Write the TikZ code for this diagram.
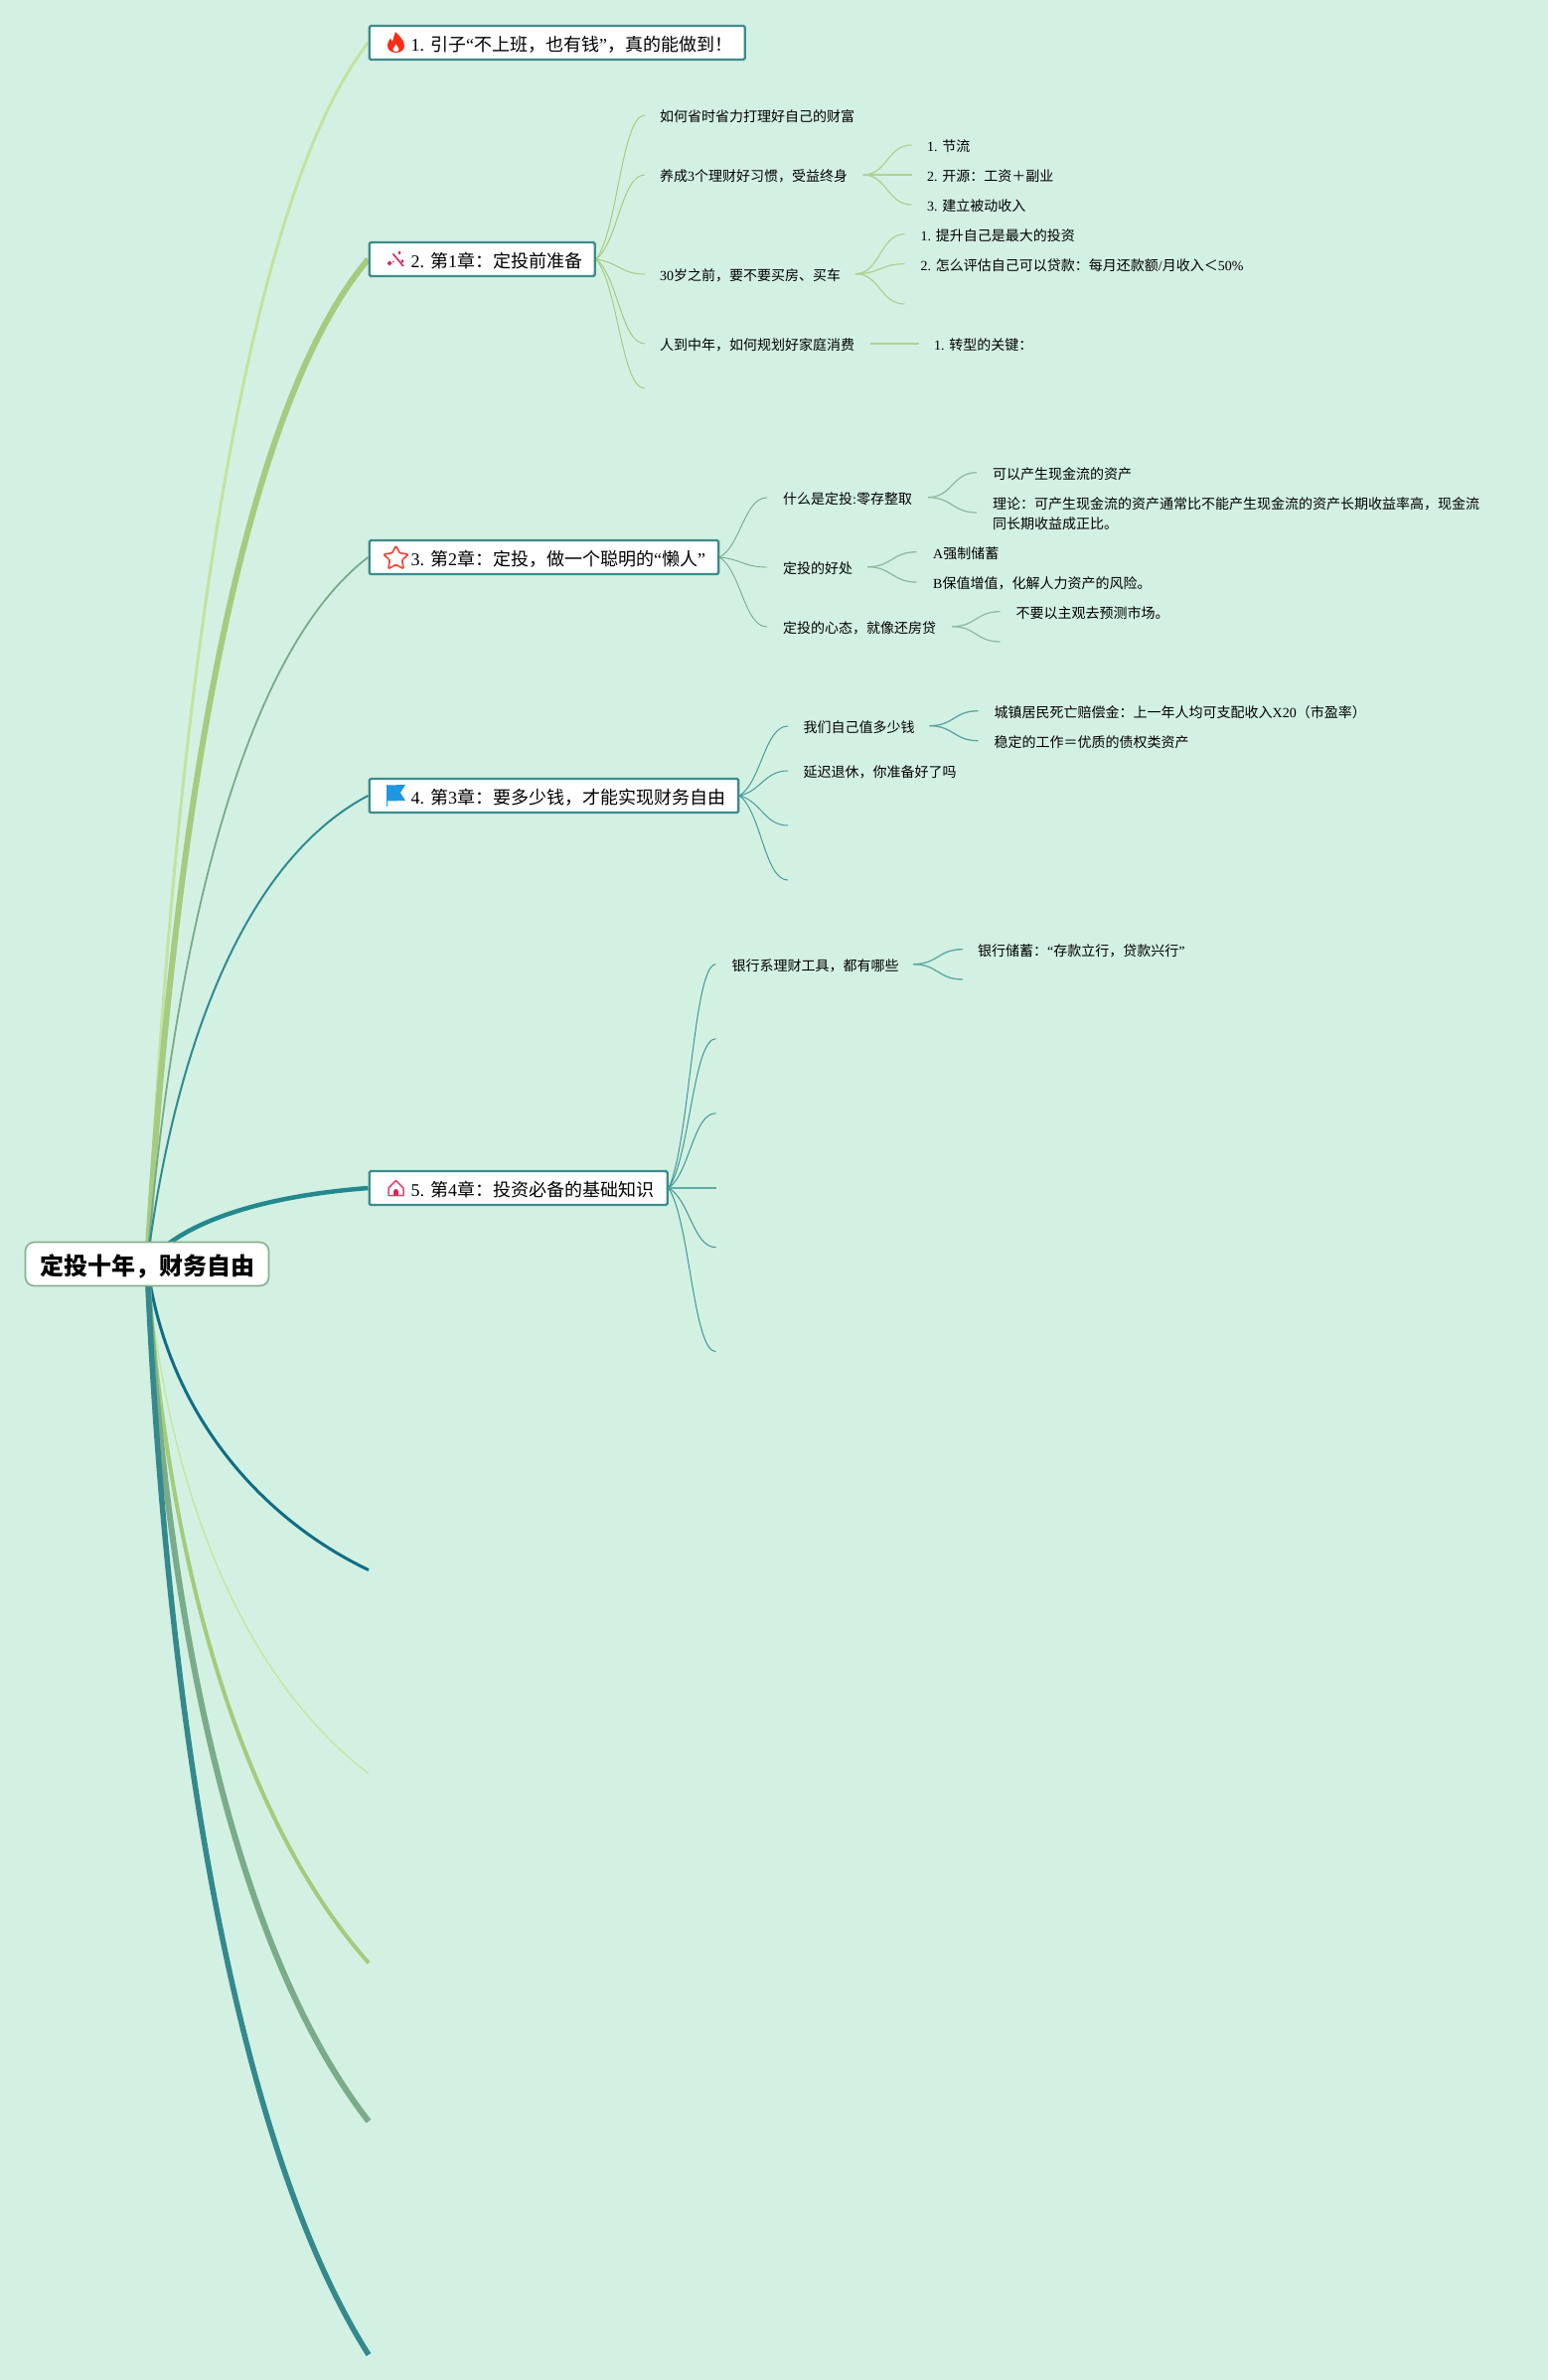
\documentclass[tikz,border=0pt]{standalone}
\usepackage{fontspec}
\setmainfont{Liberation Serif}
\newfontfamily\cjk{Noto Sans CJK SC}
\usetikzlibrary{calc}
\pgfdeclarelayer{bg}
\pgfsetlayers{bg,main}
\newcommand\C[1]{{\cjk #1}}
\newcommand\chap[2]{\makebox[#1][l]{\hspace*{26pt}#2}}
\definecolor{pagebg}{RGB}{211,241,227}
\definecolor{boxline}{RGB}{61,139,140}
\definecolor{rootline}{RGB}{133,176,142}
\definecolor{ba}{RGB}{194,227,160}
\definecolor{bb}{RGB}{164,203,127}
\definecolor{bc}{RGB}{120,170,138}
\definecolor{bd}{RGB}{47,139,142}
\definecolor{be}{RGB}{35,137,143}
\definecolor{bf}{RGB}{15,110,132}
\definecolor{bg7}{RGB}{198,230,166}
\definecolor{bh}{RGB}{163,203,124}
\definecolor{bi}{RGB}{122,171,138}
\definecolor{bj}{RGB}{51,137,140}
\definecolor{iconpink}{RGB}{224,36,94}
\definecolor{iconred}{RGB}{250,45,20}
\definecolor{starred}{RGB}{238,74,59}
\definecolor{iconblue}{RGB}{31,150,224}
\newcommand\fan[3]{\draw[#1] (#2) .. controls ($(#2)!.45!(#3 |- #2) + (#2)!.2!(#2 |- #3) - (#2)$) and ($(#3)!.48!(#2 |- #3)$) .. (#3);}
\newcommand\scv[3]{\draw[#1] (#2) .. controls ($(#2)!.5!(#3 |- #2)$) and ($(#3)!.5!(#2 |- #3)$) .. (#3);}
\tikzset{
  rootbox/.style={draw=rootline,line width=1.6pt,fill=white,rounded corners=9pt,minimum width=245pt,minimum height=44pt,inner sep=0pt,font=\fontsize{24}{28}\selectfont\cjk\bfseries,text height=23pt,text depth=2pt},
  chapbox/.style={draw=boxline,line width=2.4pt,fill=white,rounded corners=1.5pt,anchor=west,inner xsep=16pt,inner ysep=8pt,minimum height=34pt,font=\fontsize{18}{22}\selectfont,text height=17pt,text depth=1pt},
  small/.style={anchor=west,inner sep=0pt,font=\fontsize{14}{20}\selectfont,text height=12.32pt,text depth=1.68pt},
  para/.style={anchor=west,inner sep=0pt,align=left,font=\fontsize{14}{20}\selectfont},
  sub2/.style={draw=bb,line width=1pt},
  sub2b/.style={draw=bb!80!pagebg,line width=1.3pt},
  sub3/.style={draw=bc,line width=.9pt},
  sub3b/.style={draw=bc!75!pagebg,line width=1.3pt},
  sub4/.style={draw=bd!85!pagebg,line width=1pt},
  sub4b/.style={draw=bd!75!pagebg,line width=1.3pt},
  sub5/.style={draw=bd!90!pagebg,line width=1pt},
  sub5b/.style={draw=bd!70!pagebg,line width=1.4pt},
  mainline/.style={line cap=butt}
}
\begin{document}
\begin{tikzpicture}[x=1pt,y=-1pt]
\useasboundingbox (0,0) rectangle (1558,2396);
\begin{pgfonlayer}{bg}
\fill[pagebg] (0,0) rectangle (1558,2396);
\end{pgfonlayer}

% root and chapter boxes
\node[rootbox] (root) at (148,1272.5) {定投十年，财务自由};
\node[chapbox] (b1) at (370.5,43) {\chap{346pt}{1. \C{引子}“\C{不上班，也有钱}”\C{，真的能做到！}}};
\node[chapbox] (b2) at (370.5,261) {\chap{195pt}{2. \C{第}1\C{章：定投前准备}}};
\node[chapbox] (b3) at (370.5,561) {\chap{319.5pt}{3. \C{第}2\C{章：定投，做一个聪明的}“\C{懒人}”}};
\node[chapbox] (b4) at (370.5,801) {\chap{339.5pt}{4. \C{第}3\C{章：要多少钱，才能实现财务自由}}};
\node[chapbox] (b5) at (370.5,1196) {\chap{268pt}{5. \C{第}4\C{章：投资必备的基础知识}}};

% icons
\fill[iconred] (398.5,53) .. controls (393,53) and (390,49.5) .. (390,46) .. controls (390,42) and (392,41) .. (393,38.5) .. controls (394,40) and (394.5,41) .. (395,42) .. controls (396,38) and (397,35) .. (398,32) .. controls (402,36) and (407,41) .. (407,46) .. controls (407,50) and (404,53) .. (398.5,53) -- cycle;
\fill[white] (398.5,52) .. controls (396,52) and (395,50.5) .. (395.5,49) .. controls (396,47.5) and (397.5,47) .. (398.5,44.5) .. controls (399.5,47) and (401.5,48) .. (401.5,49.5) .. controls (401.5,51) and (400,52) .. (398.5,52) -- cycle;

\draw[iconpink,line width=1.6pt] (395.5,255.5) -- (406,268);
\fill[iconpink] (392,262.5) -- (394.5,265) -- (392,267.5) -- (389.5,265) -- cycle;
\fill[iconpink] (402,252.5) -- (403.5,254.5) -- (402,256.5) -- (400.5,254.5) -- cycle;
\fill[iconpink] (405,261) -- (406.5,263) -- (405,265) -- (403.5,263) -- cycle;
\fill[iconpink] (396,263.5) circle (.9pt);

\draw[starred,line width=1.7pt,line join=round,rounded corners=1pt] (398.5,549.5) -- (402.3,556.7) -- (410.9,558) -- (404.7,564) -- (406.1,572.5) -- (398.5,568.5) -- (390.9,572.5) -- (392.3,564) -- (386.1,558) -- (394.7,556.7) -- cycle;

\fill[iconblue] (389.5,790.5) -- (408,790) -- (403,798) -- (408,806) -- (389.5,806.5) -- cycle;
\draw[iconblue,line width=1pt] (389.5,790) -- (389.5,812);

\draw[iconpink!85!white,line width=1.5pt,line join=round] (391,1196) -- (398.5,1188.5) -- (406,1196) -- (406,1203.5) -- (391,1203.5) -- cycle;
\fill[iconpink] (396,1203.5) -- (396,1199.5) arc[start angle=180,end angle=0,radius=2.5pt] -- (401,1203.5) -- cycle;

% second level texts, chapter 1
\node[small] (a1) at (664,117) {\C{如何省时省力打理好自己的财富}};
\node[small] (a2) at (664,177) {\C{养成}3\C{个理财好习惯，受益终身}};
\node[small] (a3) at (664,277) {30\C{岁之前，要不要买房、买车}};
\node[small] (a4) at (664,347) {\C{人到中年，如何规划好家庭消费}};
\node[small] (a21) at (933,147) {1. \C{节流}};
\node[small] (a22) at (933,177) {2. \C{开源：工资＋副业}};
\node[small] (a23) at (933,207) {3. \C{建立被动收入}};
\node[small] (a31) at (926.5,237) {1. \C{提升自己是最大的投资}};
\node[small] (a32) at (926.5,267) {2. \C{怎么评估自己可以贷款：每月还款额}/\C{月收入＜}50\%};
\node[small] (a41) at (940,347) {1. \C{转型的关键：}};

% chapter 2
\node[small] (c1) at (788,502) {\C{什么是定投}:\C{零存整取}};
\node[small] (c2) at (788,572.5) {\C{定投的好处}};
\node[small] (c3) at (788,632) {\C{定投的心态，就像还房贷}};
\node[small] (c11) at (999,477) {\C{可以产生现金流的资产}};
\node[para] (c12) at (999,517.5) {\C{理论：可产生现金流的资产通常比不能产生现金流的资产长期收益率高，现金流}\\\C{同长期收益成正比。}};
\node[small] (c21) at (939,557) {A\C{强制储蓄}};
\node[small] (c22) at (939,587) {B\C{保值增值，化解人力资产的风险。}};
\node[small] (c31) at (1022.5,617.5) {\C{不要以主观去预测市场。}};

% chapter 3
\node[small] (d1) at (808.5,732) {\C{我们自己值多少钱}};
\node[small] (d2) at (808.5,777) {\C{延迟退休，你准备好了吗}};
\node[small] (d11) at (1000.5,717) {\C{城镇居民死亡赔偿金：上一年人均可支配收入}X20\C{（市盈率）}};
\node[small] (d12) at (1000.5,747.5) {\C{稳定的工作＝优质的债权类资产}};

% chapter 4
\node[small] (e1) at (736.5,972) {\C{银行系理财工具，都有哪些}};
\node[small] (e11) at (984,957) {\C{银行储蓄：}“\C{存款立行，贷款兴行}”};

% free ends
\coordinate (a1e) at (649,116);
\coordinate (a2e) at (649,176);
\coordinate (a3e) at (649,276);
\coordinate (a4e) at (649,346);
\coordinate (a5e) at (649,391);
\coordinate (a2s) at (868.5,176);
\coordinate (a21e) at (917.5,146);
\coordinate (a22e) at (917.5,176);
\coordinate (a23e) at (917.5,206);
\coordinate (a3s) at (861,275.7);
\coordinate (a31e) at (910.5,235.7);
\coordinate (a32e) at (910.5,265.7);
\coordinate (a33e) at (910.5,306);
\coordinate (a4s) at (875.5,346);
\coordinate (a41e) at (924.5,346);
\coordinate (c1e) at (772,501);
\coordinate (c2e) at (772,571);
\coordinate (c3e) at (772,631);
\coordinate (c1s) at (934,500.7);
\coordinate (c11e) at (983,475.7);
\coordinate (c12e) at (983,516);
\coordinate (c2s) at (873,570.7);
\coordinate (c21e) at (922.5,555.7);
\coordinate (c22e) at (922.5,586);
\coordinate (c3s) at (958,630.7);
\coordinate (c31e) at (1006.5,615.7);
\coordinate (c32e) at (1006.5,646);
\coordinate (d1e) at (793,731);
\coordinate (d2e) at (793,776);
\coordinate (d3e) at (793,831);
\coordinate (d4e) at (793,886);
\coordinate (d1s) at (935.5,730.7);
\coordinate (d11e) at (984.5,715.7);
\coordinate (d12e) at (984.5,745.7);
\coordinate (e1e) at (720.5,970.7);
\coordinate (e2e) at (720.5,1045.7);
\coordinate (e3e) at (720.5,1120.7);
\coordinate (e4e) at (720.5,1196);
\coordinate (e5e) at (720.5,1255.7);
\coordinate (e6e) at (720.5,1360.7);
\coordinate (e1s) at (919,970.7);
\coordinate (e11e) at (969,955.7);
\coordinate (e12e) at (969,986);
\coordinate (m6) at (371,1580.5);
\coordinate (m7) at (371,1785.5);
\coordinate (m8) at (371,1976);
\coordinate (m9) at (371,2135.5);
\coordinate (m10) at (371,2370.5);

\begin{pgfonlayer}{bg}
% main branches
\draw[mainline,ba,line width=3pt] (root.center) .. controls (170,815) and (230,223) .. (b1.west);
\draw[mainline,bb,line width=6pt] (root.center) .. controls (170,896) and (230,428) .. (b2.west);
\draw[mainline,bc,line width=1.8pt] (root.center) .. controls (170,1007) and (230,668) .. (b3.west);
\draw[mainline,bd,line width=2pt] (root.center) .. controls (170,1097) and (230,875) .. (b4.west);
\draw[mainline,be,line width=4.5pt] (root.center) .. controls (170,1244) and (230,1207) .. (b5.west);
\draw[mainline,bf,line width=3pt] (root.center) .. controls (170,1435) and (275,1535) .. (m6);
\draw[mainline,bg7,line width=1.5pt] (root.center) .. controls (170,1515) and (250,1693) .. (m7);
\draw[mainline,bh,line width=4pt] (root.center) .. controls (170,1595) and (250,1840) .. (m8);
\draw[mainline,bi,line width=6pt] (root.center) .. controls (170,1680) and (250,1980) .. (m9);
\draw[mainline,bj,line width=5.5pt] (root.center) .. controls (170,1790) and (250,2180) .. (m10);

% chapter 1 links
\fan{sub2}{b2.east}{a1e}
\fan{sub2}{b2.east}{a2e}
\fan{sub2}{b2.east}{a3e}
\fan{sub2}{b2.east}{a4e}
\fan{sub2}{b2.east}{a5e}
\scv{sub2b}{a2s}{a21e}
\draw[sub2b] (a2s) -- (a22e);
\scv{sub2b}{a2s}{a23e}
\scv{sub2b}{a3s}{a31e}
\scv{sub2b}{a3s}{a32e}
\scv{sub2b}{a3s}{a33e}
\draw[sub2b] (a4s) -- (a41e);

% chapter 2 links
\fan{sub3}{b3.east}{c1e}
\fan{sub3}{b3.east}{c2e}
\fan{sub3}{b3.east}{c3e}
\scv{sub3b}{c1s}{c11e}
\scv{sub3b}{c1s}{c12e}
\scv{sub3b}{c2s}{c21e}
\scv{sub3b}{c2s}{c22e}
\scv{sub3b}{c3s}{c31e}
\scv{sub3b}{c3s}{c32e}

% chapter 3 links
\fan{sub4}{b4.east}{d1e}
\fan{sub4}{b4.east}{d2e}
\fan{sub4}{b4.east}{d3e}
\fan{sub4}{b4.east}{d4e}
\scv{sub4b}{d1s}{d11e}
\scv{sub4b}{d1s}{d12e}

% chapter 4 links
\fan{sub5}{b5.east}{e1e}
\fan{sub5}{b5.east}{e2e}
\fan{sub5}{b5.east}{e3e}
\draw[sub5b] (b5.east) -- (e4e);
\fan{sub5}{b5.east}{e5e}
\fan{sub5}{b5.east}{e6e}
\scv{sub5b}{e1s}{e11e}
\scv{sub5b}{e1s}{e12e}
\end{pgfonlayer}
\end{tikzpicture}
\end{document}
